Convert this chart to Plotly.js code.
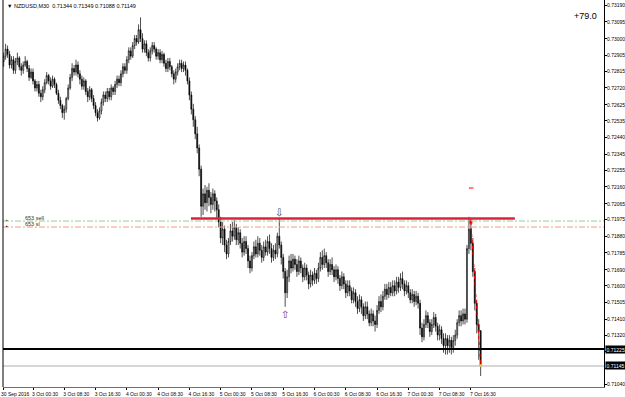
<!DOCTYPE html>
<html>
<head>
<meta charset="utf-8">
<script src="https://cdn.plot.ly/plotly-3.0.1.min.js"></script>
<style>
  html, body { margin: 0; padding: 0; background: #ffffff; }
  #chart { width: 625px; height: 397px; }
</style>
</head>
<body>
<div id="chart"></div>
<script>
// ---- Data (NZDUSD, M30) ----
const opens = [
0.7287,0.7290,0.7294,0.7291,0.7285,0.7288,0.7282,0.7287,0.7289,0.7284,
0.7282,0.7285,0.7287,0.7283,0.7278,0.7281,0.7276,0.7272,0.7274,0.7269,
0.7267,0.7271,0.7275,0.7279,0.7276,0.7273,0.7277,0.7274,0.7269,0.7265,
0.7262,0.7258,0.7260,0.7266,0.7272,0.7278,0.7283,0.7281,0.7285,0.7280,
0.7277,0.7273,0.7276,0.7270,0.7267,0.7271,0.7266,0.7262,0.7258,0.7255,
0.7259,0.7264,0.7268,0.7266,0.7270,0.7267,0.7272,0.7270,0.7274,0.7277,
0.7275,0.7280,0.7284,0.7282,0.7288,0.7293,0.7290,0.7296,0.7300,0.7298,
0.7305,0.7300,0.7294,0.7297,0.7292,0.7289,0.7293,0.7296,0.7294,0.7290,
0.7292,0.7288,0.7291,0.7286,0.7283,0.7287,0.7284,0.7280,0.7277,0.7281,
0.7284,0.7286,0.7283,0.7285,0.7282,0.7276,0.7268,0.7260,0.7254,0.7246,
0.7238,0.7226,0.7205,0.7212,0.7207,0.7214,0.7210,0.7206,0.7212,0.7208,
0.7203,0.7196,0.7187,0.7192,0.7183,0.7178,0.7185,0.7191,0.7188,0.7193,
0.7186,0.7190,0.7184,0.7179,0.7185,0.7181,0.7174,0.7170,0.7177,0.7182,
0.7178,0.7184,0.7180,0.7176,0.7182,0.7179,0.7185,0.7181,0.7176,0.7180,
0.7178,0.7188,0.7183,0.7176,0.7168,0.7156,0.7165,0.7174,0.7170,0.7175,
0.7172,0.7168,0.7174,0.7170,0.7165,0.7170,0.7166,0.7161,0.7166,0.7163,
0.7167,0.7164,0.7170,0.7176,0.7172,0.7177,0.7173,0.7168,0.7172,0.7169,
0.7165,0.7169,0.7164,0.7160,0.7165,0.7161,0.7156,0.7160,0.7157,0.7152,
0.7156,0.7151,0.7147,0.7152,0.7148,0.7143,0.7148,0.7144,0.7139,0.7144,
0.7140,0.7138,0.7146,0.7151,0.7148,0.7154,0.7158,0.7155,0.7159,0.7156,
0.7160,0.7157,0.7162,0.7159,0.7164,0.7161,0.7157,0.7160,0.7156,0.7152,
0.7155,0.7151,0.7154,0.7150,0.7136,0.7131,0.7138,0.7143,0.7139,0.7134,
0.7138,0.7142,0.7137,0.7132,0.7135,0.7130,0.7126,0.7130,0.7126,0.7129,
0.7125,0.7129,0.7132,0.7139,0.7143,0.7140,0.7144,0.7141,0.7181,0.7192,
0.7184,0.7168,0.7150,0.7138,0.71344];

const highs = [
0.7292,0.7297,0.7296,0.7293,0.7290,0.7290,0.7289,0.7292,0.7290,0.7286,
0.7287,0.7290,0.7288,0.7285,0.7283,0.7283,0.7277,0.7276,0.7276,0.7271,
0.7273,0.7277,0.7281,0.7280,0.7278,0.7279,0.7278,0.7275,0.7271,0.7267,
0.7263,0.7262,0.7267,0.7274,0.7280,0.7286,0.7285,0.7288,0.7287,0.7282,
0.7279,0.7278,0.7277,0.7272,0.7273,0.7272,0.7268,0.7264,0.7260,0.7261,
0.7266,0.7270,0.7270,0.7272,0.7272,0.7274,0.7273,0.7276,0.7279,0.7279,
0.7282,0.7286,0.7286,0.7290,0.7295,0.7295,0.7298,0.7302,0.7302,0.7308,
0.7312,0.7303,0.7299,0.7299,0.7294,0.7295,0.7298,0.7298,0.7295,0.7294,
0.7294,0.7293,0.7292,0.7288,0.7289,0.7289,0.7285,0.7282,0.7283,0.7286,
0.7288,0.7288,0.7287,0.7287,0.7283,0.7278,0.7270,0.7263,0.7256,0.7250,
0.7240,0.7228,0.7215,0.7217,0.7216,0.7218,0.7213,0.7215,0.7214,0.7210,
0.7206,0.7199,0.7196,0.7194,0.7186,0.7187,0.7195,0.7196,0.7197,0.7195,
0.7193,0.7192,0.7187,0.7188,0.7188,0.7183,0.7177,0.7179,0.7185,0.7186,
0.7188,0.7187,0.7183,0.7185,0.7186,0.7188,0.7189,0.7184,0.7183,0.7184,
0.7190,0.7198,0.7185,0.7178,0.7170,0.7169,0.7177,0.7178,0.7178,0.7177,
0.7175,0.7177,0.7176,0.7172,0.7173,0.7172,0.7168,0.7169,0.7168,0.7170,
0.7169,0.7173,0.7179,0.7180,0.7181,0.7179,0.7175,0.7175,0.7176,0.7171,
0.7172,0.7171,0.7166,0.7168,0.7167,0.7163,0.7163,0.7163,0.7159,0.7159,
0.7158,0.7154,0.7155,0.7154,0.7150,0.7151,0.7151,0.7146,0.7147,0.7146,
0.7143,0.7149,0.7154,0.7155,0.7157,0.7161,0.7161,0.7162,0.7162,0.7163,
0.7163,0.7165,0.7165,0.7167,0.7168,0.7163,0.7163,0.7162,0.7158,0.7158,
0.7157,0.7157,0.7156,0.7152,0.7139,0.7141,0.7146,0.7145,0.7141,0.7141,
0.7145,0.7144,0.7139,0.7138,0.7137,0.7133,0.7133,0.7132,0.7132,0.7131,
0.7132,0.7135,0.7141,0.7146,0.7146,0.7147,0.7147,0.7183,0.7199,0.7198,
0.7187,0.7170,0.7152,0.7141,0.71349];

const lows = [
0.7284,0.7288,0.7289,0.7283,0.7283,0.7280,0.7280,0.7285,0.7282,0.7279,
0.7280,0.7284,0.7281,0.7276,0.7277,0.7274,0.7270,0.7270,0.7267,0.7264,
0.7265,0.7269,0.7274,0.7274,0.7271,0.7272,0.7272,0.7268,0.7263,0.7260,
0.7255,0.7254,0.7258,0.7265,0.7271,0.7276,0.7279,0.7279,0.7278,0.7274,
0.7271,0.7271,0.7268,0.7264,0.7265,0.7264,0.7260,0.7256,0.7253,0.7254,
0.7257,0.7262,0.7264,0.7264,0.7265,0.7265,0.7268,0.7268,0.7272,0.7273,
0.7273,0.7278,0.7280,0.7280,0.7286,0.7288,0.7289,0.7294,0.7296,0.7297,
0.7298,0.7292,0.7292,0.7290,0.7287,0.7287,0.7291,0.7292,0.7288,0.7288,
0.7286,0.7286,0.7284,0.7281,0.7281,0.7282,0.7278,0.7274,0.7275,0.7279,
0.7282,0.7281,0.7281,0.7279,0.7274,0.7265,0.7257,0.7250,0.7243,0.7235,
0.7222,0.7199,0.7200,0.7203,0.7202,0.7205,0.7201,0.7203,0.7202,0.7198,
0.7193,0.7184,0.7183,0.7179,0.7175,0.7176,0.7183,0.7185,0.7186,0.7183,
0.7183,0.7181,0.7176,0.7177,0.7178,0.7170,0.7167,0.7168,0.7175,0.7176,
0.7176,0.7177,0.7173,0.7174,0.7177,0.7177,0.7178,0.7173,0.7174,0.7175,
0.7176,0.7181,0.7172,0.7164,0.7148,0.7153,0.7162,0.7167,0.7168,0.7169,
0.7165,0.7166,0.7167,0.7162,0.7163,0.7163,0.7158,0.7159,0.7160,0.7161,
0.7161,0.7162,0.7168,0.7169,0.7170,0.7170,0.7165,0.7166,0.7166,0.7162,
0.7163,0.7161,0.7157,0.7158,0.7158,0.7153,0.7154,0.7154,0.7150,0.7150,
0.7148,0.7144,0.7145,0.7144,0.7140,0.7141,0.7141,0.7137,0.7137,0.7137,
0.7134,0.7136,0.7144,0.7145,0.7146,0.7152,0.7152,0.7153,0.7154,0.7154,
0.7154,0.7155,0.7156,0.7157,0.7158,0.7154,0.7155,0.7153,0.7150,0.7150,
0.7148,0.7149,0.7147,0.7132,0.7128,0.7129,0.7136,0.7136,0.7131,0.7132,
0.7136,0.7134,0.7129,0.7129,0.7127,0.7122,0.7121,0.7121,0.7122,0.7121,
0.7122,0.7126,0.7130,0.7137,0.7137,0.7138,0.7138,0.7139,0.7178,0.7180,
0.7165,0.7146,0.7133,0.7118,0.71088];

const closes = [
0.7290,0.7294,0.7291,0.7285,0.7288,0.7282,0.7287,0.7289,0.7284,0.7282,
0.7285,0.7287,0.7283,0.7278,0.7281,0.7276,0.7272,0.7274,0.7269,0.7267,
0.7271,0.7275,0.7279,0.7276,0.7273,0.7277,0.7274,0.7269,0.7265,0.7262,
0.7258,0.7260,0.7266,0.7272,0.7278,0.7283,0.7281,0.7285,0.7280,0.7277,
0.7273,0.7276,0.7270,0.7267,0.7271,0.7266,0.7262,0.7258,0.7255,0.7259,
0.7264,0.7268,0.7266,0.7270,0.7267,0.7272,0.7270,0.7274,0.7277,0.7275,
0.7280,0.7284,0.7282,0.7288,0.7293,0.7290,0.7296,0.7300,0.7298,0.7305,
0.7300,0.7294,0.7297,0.7292,0.7289,0.7293,0.7296,0.7294,0.7290,0.7292,
0.7288,0.7291,0.7286,0.7283,0.7287,0.7284,0.7280,0.7277,0.7281,0.7284,
0.7286,0.7283,0.7285,0.7282,0.7276,0.7268,0.7260,0.7254,0.7246,0.7238,
0.7226,0.7205,0.7212,0.7207,0.7214,0.7210,0.7206,0.7212,0.7208,0.7203,
0.7196,0.7187,0.7192,0.7183,0.7178,0.7185,0.7191,0.7188,0.7193,0.7186,
0.7190,0.7184,0.7179,0.7185,0.7181,0.7174,0.7170,0.7177,0.7182,0.7178,
0.7184,0.7180,0.7176,0.7182,0.7179,0.7185,0.7181,0.7176,0.7180,0.7178,
0.7188,0.7183,0.7176,0.7168,0.7156,0.7165,0.7174,0.7170,0.7175,0.7172,
0.7168,0.7174,0.7170,0.7165,0.7170,0.7166,0.7161,0.7166,0.7163,0.7167,
0.7164,0.7170,0.7176,0.7172,0.7177,0.7173,0.7168,0.7172,0.7169,0.7165,
0.7169,0.7164,0.7160,0.7165,0.7161,0.7156,0.7160,0.7157,0.7152,0.7156,
0.7151,0.7147,0.7152,0.7148,0.7143,0.7148,0.7144,0.7139,0.7144,0.7140,
0.7138,0.7146,0.7151,0.7148,0.7154,0.7158,0.7155,0.7159,0.7156,0.7160,
0.7157,0.7162,0.7159,0.7164,0.7161,0.7157,0.7160,0.7156,0.7152,0.7155,
0.7151,0.7154,0.7150,0.7136,0.7131,0.7138,0.7143,0.7139,0.7134,0.7138,
0.7142,0.7137,0.7132,0.7135,0.7130,0.7126,0.7130,0.7126,0.7129,0.7125,
0.7129,0.7132,0.7139,0.7143,0.7140,0.7144,0.7141,0.7181,0.7192,0.7184,
0.7168,0.7150,0.7138,0.7134,0.71149];

const xTickIdx  = [-0.3, 15, 31, 47, 63, 79, 95, 111, 127, 143, 159, 175, 191, 207, 223, 239];
const xTickText = ["30 Sep 2016","3 Oct 00:30","3 Oct 08:30","3 Oct 16:30","4 Oct 00:30","4 Oct 08:30",
                   "4 Oct 16:30","5 Oct 00:30","5 Oct 08:30","5 Oct 16:30","6 Oct 00:30","6 Oct 08:30",
                   "6 Oct 16:30","7 Oct 00:30","7 Oct 08:30","7 Oct 16:30"];
const yTickVals = [0.73190,0.73095,0.73000,0.72905,0.72815,0.72720,0.72625,0.72535,0.72440,0.72345,
                   0.72255,0.72160,0.72065,0.71975,0.71880,0.71785,0.71690,0.71600,0.71505,0.71410,
                   0.71320,0.71225,0.71130,0.71040];
// labels of 0.71225 and 0.71130 lie under the price boxes, as in the terminal
const yTickText = ["0.73190","0.73095","0.73000","0.72905","0.72815","0.72720","0.72625","0.72535",
                   "0.72440","0.72345","0.72255","0.72160","0.72065","0.71975","0.71880","0.71785",
                   "0.71690","0.71600","0.71505","0.71410","0.71320","","","0.71040"];

// Levels and objects
const redTrendIdx   = [95.8, 261.5];
const redTrendPrice = 0.7198;
const sellLevel     = 0.71966;
const slLevel       = 0.71932;
const blackLevel    = 0.71241;
const blackLabel    = "0.71225";
const bidLevel      = 0.71145;
const bidLabel      = "0.71145";
const tpMarkIdx     = [238, 240.3];
const tpMarkPrice   = 0.72153;
const tradeIdx      = [239, 244];
const tradePrice    = [0.7196, 0.71149];
const downArrow     = {idx: 141, price: 0.72015};
const upArrow       = {idx: 144, price: 0.71434};
const headerText    = "▼ NZDUSD,M30  0.71344 0.71349 0.71088 0.71149";
const profitText    = "+79.0";

const xIdx = closes.map((_, i) => i);
const FONT = "Liberation Sans, Arial, sans-serif";

const traces = [
  {
    type: 'candlestick',
    x: xIdx, open: opens, high: highs, low: lows, close: closes,
    increasing: {line: {color: '#000000', width: 0.7}, fillcolor: '#ffffff'},
    decreasing: {line: {color: '#000000', width: 0.7}, fillcolor: '#000000'},
    whiskerwidth: 0,
    hoverinfo: 'skip',
    showlegend: false
  },
  {
    type: 'scatter', mode: 'lines',
    x: tradeIdx, y: tradePrice,
    line: {color: '#ff0000', width: 1, dash: 'dot'},
    hoverinfo: 'skip', showlegend: false
  },
  {
    type: 'scatter', mode: 'markers',
    x: tradeIdx, y: tradePrice,
    marker: {symbol: 'square', size: 3, color: ['#ff0000', '#ffa500']},
    hoverinfo: 'skip', showlegend: false
  }
];

const shapes = [
  {type: 'line', xref: 'x', yref: 'y', x0: redTrendIdx[0], x1: redTrendIdx[1], y0: redTrendPrice, y1: redTrendPrice,
   line: {color: '#e0203f', width: 2.5}},
  {type: 'line', xref: 'paper', yref: 'y', x0: 0, x1: 1, y0: sellLevel, y1: sellLevel,
   line: {color: '#93cf93', width: 1, dash: '6px,2px,2px,2px'}},
  {type: 'line', xref: 'paper', yref: 'y', x0: 0, x1: 1, y0: slLevel, y1: slLevel,
   line: {color: '#f79a78', width: 1, dash: '6px,2px,2px,2px'}},
  {type: 'line', xref: 'paper', yref: 'y', x0: 0, x1: 1, y0: blackLevel, y1: blackLevel,
   line: {color: '#000000', width: 2}},
  {type: 'line', xref: 'paper', yref: 'y', x0: 0, x1: 1, y0: bidLevel, y1: bidLevel,
   line: {color: '#c8c8c8', width: 1.5}},
  {type: 'line', xref: 'x', yref: 'y', x0: tpMarkIdx[0], x1: tpMarkIdx[1], y0: tpMarkPrice, y1: tpMarkPrice,
   line: {color: '#ff0000', width: 1}},
  {type: 'line', xref: 'paper', yref: 'paper', x0: 0, x1: 0, y0: 0, y1: 1,
   line: {color: '#000000', width: 1}}
];

const annotations = [
  {xref: 'paper', yref: 'paper', x: 0.003, y: 1, xanchor: 'left', yanchor: 'top', yshift: -1,
   text: headerText, showarrow: false, font: {family: FONT, size: 5.5, color: '#000000'}},
  {xref: 'paper', yref: 'paper', x: 0.992, y: 0.977, xanchor: 'right', yanchor: 'top',
   text: profitText, showarrow: false, font: {family: FONT, size: 9, color: '#000000'}},
  {xref: 'paper', yref: 'y', x: 0.033, y: sellLevel, xanchor: 'left', yanchor: 'bottom', yshift: -1.5,
   text: '653 sell', showarrow: false, font: {family: FONT, size: 5.5, color: '#333333'}},
  {xref: 'paper', yref: 'y', x: 0.033, y: slLevel, xanchor: 'left', yanchor: 'bottom', yshift: -1.5,
   text: '653 sl', showarrow: false, font: {family: FONT, size: 5.5, color: '#333333'}},
  {xref: 'paper', yref: 'y', x: 0.006, y: sellLevel, xanchor: 'center', yanchor: 'middle', yshift: 1.5,
   text: '▪', showarrow: false, font: {family: FONT, size: 5, color: '#2a5a2a'}},
  {xref: 'paper', yref: 'y', x: 0.006, y: slLevel, xanchor: 'center', yanchor: 'middle', yshift: 1.5,
   text: '▪', showarrow: false, font: {family: FONT, size: 5, color: '#000000'}},
  {xref: 'x', yref: 'y', x: downArrow.idx, y: downArrow.price, xanchor: 'center', yanchor: 'middle',
   text: '⇩', showarrow: false, font: {family: 'DejaVu Sans', size: 10, color: '#404040'}},
  {xref: 'x', yref: 'y', x: upArrow.idx, y: upArrow.price, xanchor: 'center', yanchor: 'middle',
   text: '⇧', showarrow: false, font: {family: 'DejaVu Sans', size: 10, color: '#7a1f7a'}}
];

// y tick labels, placed at the right of the price scale
yTickVals.forEach((v, i) => {
  if (!yTickText[i]) return;
  annotations.push({xref: 'paper', yref: 'y', x: 1, y: v, xanchor: 'left', yanchor: 'middle', xshift: 1.5,
    text: yTickText[i], showarrow: false, borderpad: 0,
    font: {family: FONT, size: 5, color: '#000000'}});
});
// price boxes
[[blackLevel, blackLabel], [bidLevel, bidLabel]].forEach(([v, t]) => {
  annotations.push({xref: 'paper', yref: 'y', x: 1, y: v, xanchor: 'left', yanchor: 'middle', xshift: 0.5,
    text: t, showarrow: false, bgcolor: '#000000', borderpad: 0.6,
    font: {family: FONT, size: 5, color: '#ffffff'}});
});

const layout = {
  width: 625, height: 397,
  margin: {l: 3, r: 21, t: 0, b: 10, pad: 0},
  paper_bgcolor: '#ffffff', plot_bgcolor: '#ffffff',
  showlegend: false,
  font: {family: FONT, size: 5, color: '#000000'},
  xaxis: {
    range: [-0.35, 307.1],
    rangeslider: {visible: false},
    showgrid: false, zeroline: false,
    showline: true, linecolor: '#707070', linewidth: 1,
    tickmode: 'array', tickvals: xTickIdx, ticktext: xTickText,
    ticks: 'outside', ticklen: 2, tickwidth: 1, tickcolor: '#000000',
    tickfont: {family: FONT, size: 5, color: '#000000'},
    tickangle: 0, automargin: false,
    ticklabelshift: 12, ticklabelstandoff: 0, ticklabeloverflow: 'allow',
    fixedrange: true
  },
  yaxis: {
    side: 'right',
    range: [0.710258, 0.732183],
    showgrid: false, zeroline: false,
    showline: true, linecolor: '#000000', linewidth: 1,
    tickmode: 'array', tickvals: yTickVals,
    ticks: 'outside', ticklen: 2, tickwidth: 1, tickcolor: '#000000',
    showticklabels: false,
    fixedrange: true
  },
  shapes: shapes,
  annotations: annotations
};

Plotly.newPlot('chart', traces, layout, {displayModeBar: false, staticPlot: true});
</script>
</body>
</html>
